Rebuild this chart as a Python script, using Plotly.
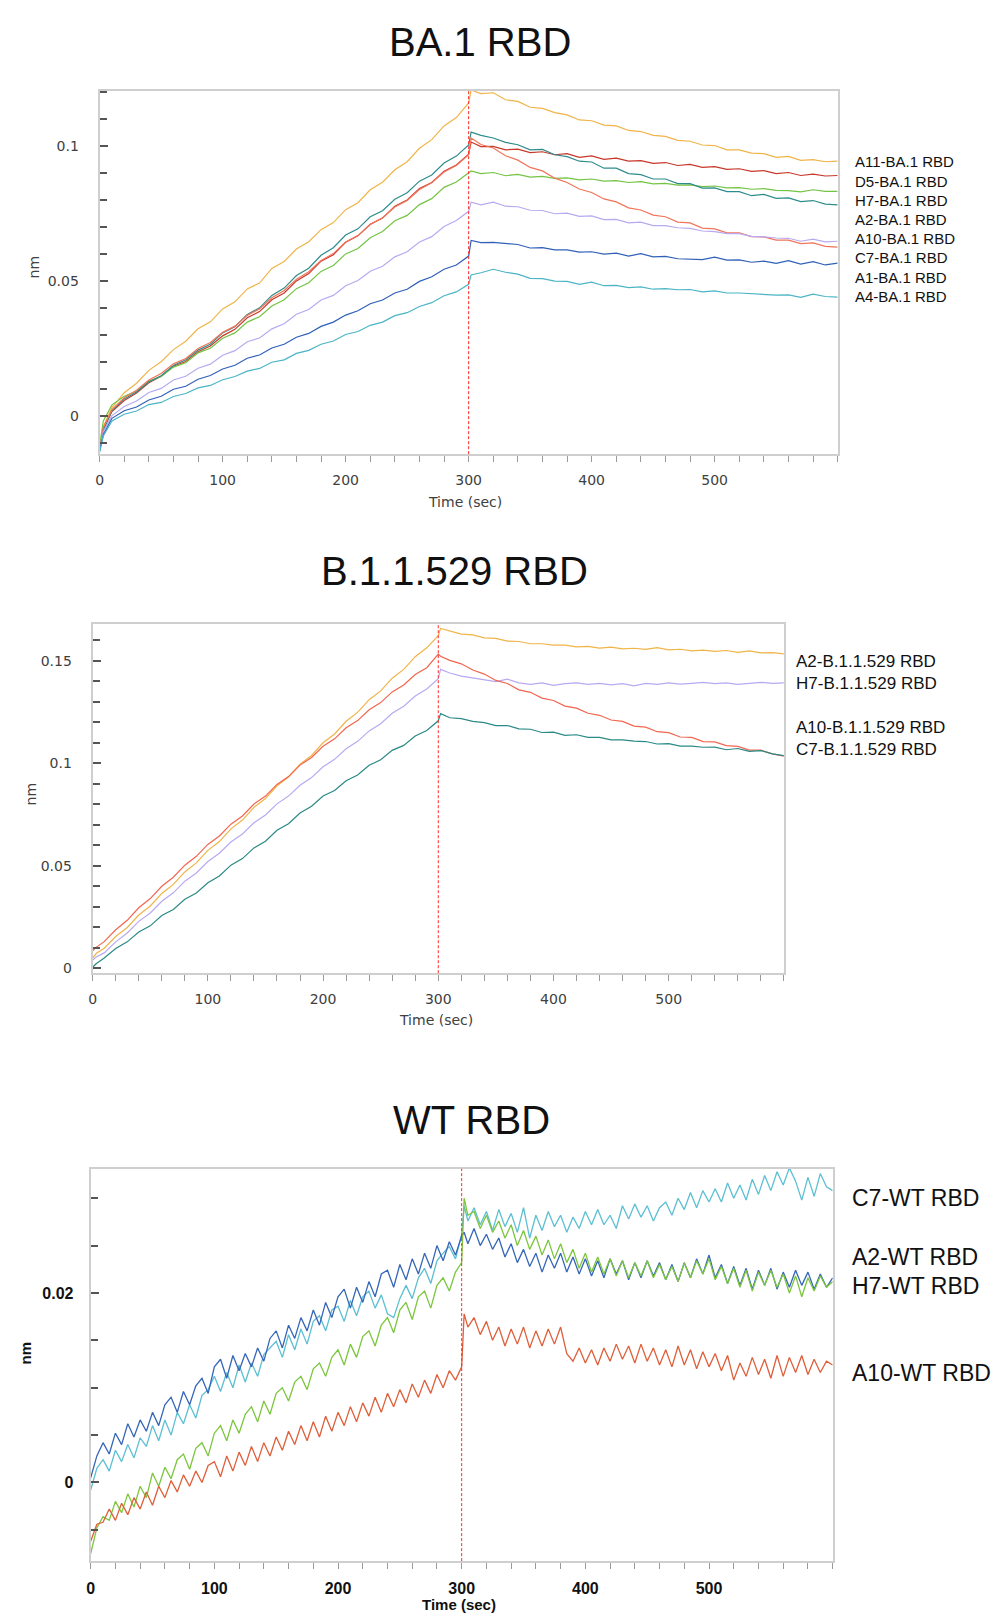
import plotly.graph_objects as go

# page offset of the default html body margin
OFF = 8
FW, FH = 992, 1612

# ---------------- time grids (sec) ----------------
T_KIN = [0, 3] + list(range(10, 301, 10)) + [302] + list(range(310, 601, 10))
T_WT = list(range(0, 301, 5)) + [302] + list(range(305, 601, 5))
DISSOC_START = 300
X_TICKS = [0, 100, 200, 300, 400, 500]

# ---------------- BA.1 RBD (nm) ----------------
BA1_A11 = [-0.0125, -0.0040,
           0.0030, 0.0085, 0.0120, 0.0168, 0.0200, 0.0245, 0.0276, 0.0322, 0.0348, 0.0396,
           0.0422, 0.0470, 0.0492, 0.0546, 0.0572, 0.0618, 0.0645, 0.0690, 0.0716, 0.0764,
           0.0790, 0.0838, 0.0866, 0.0912, 0.0942, 0.0992, 0.1024, 0.1075, 0.1106, 0.1160,
           0.1208,
           0.1195, 0.1198, 0.1172, 0.1166, 0.1144, 0.1140, 0.1124, 0.1116, 0.1097, 0.1094,
           0.1078, 0.1075, 0.1058, 0.1054, 0.1040, 0.1036, 0.1021, 0.1018, 0.1004, 0.1002,
           0.0986, 0.0986, 0.0974, 0.0972, 0.0958, 0.0962, 0.0947, 0.0950, 0.0942, 0.0944]
BA1_D5 = [-0.0130, -0.0050,
          0.0015, 0.0056, 0.0084, 0.0122, 0.0146, 0.0183, 0.0201, 0.0237, 0.0258, 0.0296,
          0.0320, 0.0363, 0.0386, 0.0430, 0.0455, 0.0500, 0.0527, 0.0573, 0.0597, 0.0643,
          0.0667, 0.0710, 0.0733, 0.0777, 0.0800, 0.0843, 0.0865, 0.0907, 0.0930, 0.0970,
          0.1015,
          0.0998, 0.0999, 0.0986, 0.0989, 0.0976, 0.0979, 0.0968, 0.0972, 0.0958, 0.0964,
          0.0951, 0.0955, 0.0944, 0.0946, 0.0936, 0.0939, 0.0928, 0.0932, 0.0921, 0.0924,
          0.0914, 0.0916, 0.0906, 0.0909, 0.0898, 0.0902, 0.0891, 0.0896, 0.0889, 0.0891]
BA1_H7 = [-0.0110, -0.0020,
          0.0040, 0.0072, 0.0091, 0.0127, 0.0145, 0.0180, 0.0196, 0.0233, 0.0250, 0.0287,
          0.0307, 0.0347, 0.0367, 0.0407, 0.0430, 0.0471, 0.0493, 0.0535, 0.0557, 0.0600,
          0.0620, 0.0660, 0.0683, 0.0723, 0.0743, 0.0783, 0.0805, 0.0847, 0.0867, 0.0900,
          0.0908,
          0.0898, 0.0902, 0.0890, 0.0895, 0.0885, 0.0888, 0.0880, 0.0882, 0.0875, 0.0878,
          0.0870, 0.0872, 0.0865, 0.0868, 0.0860, 0.0862, 0.0855, 0.0856, 0.0850, 0.0852,
          0.0845, 0.0846, 0.0840, 0.0842, 0.0836, 0.0835, 0.0830, 0.0838, 0.0832, 0.0832]
BA1_A2 = [-0.0128, -0.0055,
          0.0018, 0.0062, 0.0088, 0.0126, 0.0148, 0.0186, 0.0207, 0.0243, 0.0265, 0.0307,
          0.0330, 0.0375, 0.0400, 0.0446, 0.0473, 0.0520, 0.0547, 0.0595, 0.0623, 0.0670,
          0.0693, 0.0738, 0.0760, 0.0803, 0.0827, 0.0870, 0.0893, 0.0937, 0.0963, 0.1004,
          0.1052,
          0.1040, 0.1030, 0.1014, 0.1005, 0.0986, 0.0988, 0.0968, 0.0961, 0.0944, 0.0941,
          0.0918, 0.0918, 0.0898, 0.0894, 0.0878, 0.0878, 0.0861, 0.0861, 0.0844, 0.0845,
          0.0831, 0.0831, 0.0816, 0.0821, 0.0806, 0.0808, 0.0794, 0.0798, 0.0785, 0.0782]
BA1_A10 = [-0.0122, -0.0045,
           0.0022, 0.0066, 0.0094, 0.0132, 0.0156, 0.0192, 0.0212, 0.0249, 0.0271, 0.0309,
           0.0332, 0.0372, 0.0396, 0.0437, 0.0464, 0.0506, 0.0534, 0.0576, 0.0601, 0.0644,
           0.0668, 0.0709, 0.0734, 0.0774, 0.0798, 0.0839, 0.0864, 0.0904, 0.0928, 0.0968,
           0.1030,
           0.1006, 0.0993, 0.0964, 0.0948, 0.0921, 0.0908, 0.0881, 0.0865, 0.0841, 0.0828,
           0.0804, 0.0793, 0.0771, 0.0763, 0.0744, 0.0738, 0.0718, 0.0715, 0.0696, 0.0693,
           0.0678, 0.0678, 0.0664, 0.0663, 0.0651, 0.0651, 0.0638, 0.0641, 0.0628, 0.0625]
BA1_C7 = [-0.0120, -0.0060,
          0.0000, 0.0034, 0.0054, 0.0086, 0.0101, 0.0132, 0.0146, 0.0176, 0.0191, 0.0224,
          0.0241, 0.0274, 0.0288, 0.0322, 0.0341, 0.0376, 0.0394, 0.0429, 0.0446, 0.0482,
          0.0501, 0.0536, 0.0554, 0.0589, 0.0608, 0.0644, 0.0664, 0.0702, 0.0724, 0.0758,
          0.0792,
          0.0782, 0.0792, 0.0777, 0.0775, 0.0762, 0.0761, 0.0749, 0.0751, 0.0739, 0.0741,
          0.0727, 0.0728, 0.0715, 0.0718, 0.0705, 0.0705, 0.0697, 0.0695, 0.0685, 0.0683,
          0.0675, 0.0675, 0.0665, 0.0663, 0.0659, 0.0658, 0.0647, 0.0655, 0.0645, 0.0647]
BA1_A1 = [-0.0130, -0.0070,
          -0.0010, 0.0018, 0.0032, 0.0058, 0.0072, 0.0098, 0.0109, 0.0135, 0.0149, 0.0173,
          0.0187, 0.0213, 0.0225, 0.0251, 0.0265, 0.0291, 0.0305, 0.0331, 0.0347, 0.0373,
          0.0389, 0.0415, 0.0429, 0.0455, 0.0469, 0.0498, 0.0515, 0.0543, 0.0559, 0.0592,
          0.0650,
          0.0642, 0.0643, 0.0639, 0.0635, 0.0622, 0.0623, 0.0615, 0.0615, 0.0607, 0.0608,
          0.0599, 0.0603, 0.0592, 0.0601, 0.0589, 0.0591, 0.0582, 0.0581, 0.0579, 0.0588,
          0.0577, 0.0578, 0.0569, 0.0573, 0.0565, 0.0575, 0.0562, 0.0571, 0.0559, 0.0566]
BA1_A4 = [-0.0135, -0.0075,
          -0.0020, 0.0005, 0.0017, 0.0041, 0.0049, 0.0071, 0.0082, 0.0103, 0.0112, 0.0133,
          0.0145, 0.0165, 0.0175, 0.0198, 0.0207, 0.0231, 0.0242, 0.0265, 0.0277, 0.0301,
          0.0312, 0.0335, 0.0347, 0.0371, 0.0382, 0.0405, 0.0419, 0.0445, 0.0459, 0.0487,
          0.0522,
          0.0530, 0.0543, 0.0532, 0.0525, 0.0509, 0.0508, 0.0499, 0.0498, 0.0487, 0.0495,
          0.0482, 0.0483, 0.0475, 0.0478, 0.0469, 0.0471, 0.0467, 0.0468, 0.0459, 0.0463,
          0.0455, 0.0455, 0.0452, 0.0451, 0.0447, 0.0448, 0.0439, 0.0451, 0.0442, 0.0440]

# ---------------- B.1.1.529 RBD (nm) ----------------
OM_A2 = [0.0050, 0.0072,
         0.0098, 0.0155, 0.0199, 0.0260, 0.0304, 0.0365, 0.0409, 0.0470, 0.0514, 0.0575,
         0.0618, 0.0680, 0.0723, 0.0785, 0.0828, 0.0890, 0.0933, 0.0995, 0.1038, 0.1100,
         0.1143, 0.1205, 0.1248, 0.1310, 0.1353, 0.1415, 0.1458, 0.1520, 0.1563, 0.1622,
         0.1658,
         0.1645, 0.1630, 0.1626, 0.1612, 0.1609, 0.1596, 0.1594, 0.1583, 0.1583, 0.1576,
         0.1576, 0.1568, 0.1570, 0.1562, 0.1566, 0.1558, 0.1561, 0.1556, 0.1564, 0.1553,
         0.1556, 0.1548, 0.1552, 0.1546, 0.1550, 0.1541, 0.1548, 0.1538, 0.1540, 0.1534]
OM_H7 = [0.0040, 0.0055,
         0.0075, 0.0129, 0.0172, 0.0229, 0.0270, 0.0327, 0.0368, 0.0425, 0.0465, 0.0521,
         0.0561, 0.0616, 0.0655, 0.0710, 0.0748, 0.0802, 0.0840, 0.0893, 0.0930, 0.0983,
         0.1019, 0.1071, 0.1107, 0.1158, 0.1193, 0.1244, 0.1278, 0.1328, 0.1362, 0.1412,
         0.1458,
         0.1440, 0.1425, 0.1415, 0.1408, 0.1398, 0.1410, 0.1392, 0.1385, 0.1392, 0.1380,
         0.1388, 0.1392, 0.1385, 0.1390, 0.1382, 0.1388, 0.1378, 0.1390, 0.1385, 0.1392,
         0.1386, 0.1390, 0.1395, 0.1388, 0.1392, 0.1385, 0.1390, 0.1395, 0.1390, 0.1392]
OM_A10 = [0.0085, 0.0102,
          0.0130, 0.0188, 0.0234, 0.0295, 0.0340, 0.0400, 0.0444, 0.0503, 0.0546, 0.0604,
          0.0645, 0.0703, 0.0743, 0.0801, 0.0840, 0.0897, 0.0935, 0.0991, 0.1028, 0.1083,
          0.1119, 0.1173, 0.1208, 0.1261, 0.1296, 0.1348, 0.1382, 0.1433, 0.1466, 0.1532,
          0.1522,
          0.1502, 0.1485, 0.1455, 0.1435, 0.1404, 0.1389, 0.1358, 0.1346, 0.1318, 0.1306,
          0.1279, 0.1269, 0.1244, 0.1234, 0.1211, 0.1204, 0.1181, 0.1176, 0.1154, 0.1149,
          0.1128, 0.1126, 0.1106, 0.1104, 0.1086, 0.1082, 0.1064, 0.1064, 0.1046, 0.1035]
OM_C7 = [0.0005, 0.0022,
         0.0050, 0.0096, 0.0129, 0.0177, 0.0207, 0.0257, 0.0287, 0.0337, 0.0367, 0.0417,
         0.0450, 0.0503, 0.0535, 0.0587, 0.0620, 0.0673, 0.0705, 0.0757, 0.0790, 0.0840,
         0.0867, 0.0915, 0.0943, 0.0990, 0.1017, 0.1063, 0.1087, 0.1133, 0.1160, 0.1207,
         0.1242,
         0.1222, 0.1218, 0.1204, 0.1198, 0.1184, 0.1184, 0.1168, 0.1166, 0.1150, 0.1152,
         0.1136, 0.1139, 0.1126, 0.1126, 0.1114, 0.1114, 0.1108, 0.1106, 0.1094, 0.1096,
         0.1084, 0.1084, 0.1078, 0.1079, 0.1066, 0.1072, 0.1058, 0.1062, 0.1046, 0.1037]

# ---------------- WT RBD (nm) ----------------
WT_C7 = [-0.0008, 0.0015, 0.0024, 0.0012, 0.0034, 0.0022, 0.0040, 0.0026, 0.0047, 0.0038,
         0.0060, 0.0044, 0.0066, 0.0050, 0.0074, 0.0062, 0.0082, 0.0068, 0.0092, 0.0098,
         0.0112, 0.0096, 0.0116, 0.0100, 0.0124, 0.0106, 0.0126, 0.0112, 0.0135, 0.0142,
         0.0149, 0.0132, 0.0156, 0.0140, 0.0162, 0.0146, 0.0170, 0.0176, 0.0160, 0.0182,
         0.0186, 0.0170, 0.0192, 0.0176, 0.0196, 0.0202, 0.0184, 0.0198, 0.0178, 0.0174,
         0.0194, 0.0208, 0.0194, 0.0216, 0.0226, 0.0210, 0.0234, 0.0242, 0.0249, 0.0236,
         0.0262,
         0.0292,
         0.0276, 0.0290, 0.0272, 0.0286, 0.0266, 0.0288, 0.0270, 0.0284, 0.0264, 0.0290,
         0.0258, 0.0282, 0.0266, 0.0286, 0.0270, 0.0282, 0.0264, 0.0280, 0.0268, 0.0286,
         0.0272, 0.0288, 0.0272, 0.0282, 0.0268, 0.0292, 0.0278, 0.0294, 0.0280, 0.0292,
         0.0276, 0.0290, 0.0296, 0.0282, 0.0300, 0.0288, 0.0306, 0.0290, 0.0308, 0.0296,
         0.0310, 0.0296, 0.0316, 0.0300, 0.0314, 0.0298, 0.0320, 0.0304, 0.0324, 0.0308,
         0.0328, 0.0314, 0.0332, 0.0318, 0.0298, 0.0322, 0.0302, 0.0326, 0.0312, 0.0308]
WT_A2 = [0.0005, 0.0028, 0.0042, 0.0030, 0.0052, 0.0040, 0.0062, 0.0048, 0.0066, 0.0054,
         0.0074, 0.0060, 0.0082, 0.0090, 0.0074, 0.0096, 0.0082, 0.0102, 0.0110, 0.0094,
         0.0122, 0.0130, 0.0110, 0.0134, 0.0118, 0.0136, 0.0122, 0.0142, 0.0128, 0.0152,
         0.0160, 0.0142, 0.0166, 0.0152, 0.0174, 0.0160, 0.0182, 0.0166, 0.0190, 0.0174,
         0.0196, 0.0204, 0.0184, 0.0206, 0.0190, 0.0212, 0.0196, 0.0220, 0.0224, 0.0206,
         0.0230, 0.0214, 0.0236, 0.0220, 0.0242, 0.0226, 0.0250, 0.0234, 0.0254, 0.0240,
         0.0260,
         0.0264,
         0.0252, 0.0268, 0.0250, 0.0262, 0.0246, 0.0258, 0.0238, 0.0252, 0.0232, 0.0246,
         0.0228, 0.0242, 0.0222, 0.0240, 0.0226, 0.0242, 0.0222, 0.0238, 0.0220, 0.0236,
         0.0218, 0.0234, 0.0216, 0.0236, 0.0220, 0.0234, 0.0214, 0.0232, 0.0216, 0.0234,
         0.0218, 0.0232, 0.0214, 0.0230, 0.0212, 0.0232, 0.0216, 0.0236, 0.0220, 0.0240,
         0.0216, 0.0230, 0.0210, 0.0228, 0.0208, 0.0226, 0.0204, 0.0224, 0.0208, 0.0226,
         0.0204, 0.0222, 0.0206, 0.0224, 0.0208, 0.0222, 0.0204, 0.0220, 0.0206, 0.0216]
WT_H7 = [-0.0075, -0.0048, -0.0036, -0.0040, -0.0020, -0.0032, -0.0012, -0.0026, -0.0004, -0.0016,
         0.0010, -0.0004, 0.0016, 0.0004, 0.0024, 0.0030, 0.0014, 0.0036, 0.0042, 0.0028,
         0.0052, 0.0060, 0.0044, 0.0066, 0.0052, 0.0072, 0.0080, 0.0064, 0.0086, 0.0072,
         0.0094, 0.0100, 0.0086, 0.0106, 0.0112, 0.0098, 0.0120, 0.0126, 0.0112, 0.0132,
         0.0140, 0.0124, 0.0146, 0.0132, 0.0154, 0.0160, 0.0144, 0.0166, 0.0174, 0.0158,
         0.0182, 0.0190, 0.0172, 0.0196, 0.0202, 0.0184, 0.0208, 0.0216, 0.0202, 0.0222,
         0.0232,
         0.0300,
         0.0282, 0.0286, 0.0268, 0.0282, 0.0264, 0.0276, 0.0258, 0.0272, 0.0250, 0.0266,
         0.0246, 0.0260, 0.0240, 0.0256, 0.0236, 0.0252, 0.0232, 0.0246, 0.0226, 0.0242,
         0.0222, 0.0238, 0.0220, 0.0236, 0.0218, 0.0234, 0.0216, 0.0232, 0.0218, 0.0234,
         0.0216, 0.0230, 0.0214, 0.0228, 0.0212, 0.0232, 0.0216, 0.0234, 0.0220, 0.0236,
         0.0214, 0.0228, 0.0210, 0.0226, 0.0206, 0.0224, 0.0202, 0.0222, 0.0208, 0.0224,
         0.0206, 0.0220, 0.0200, 0.0218, 0.0196, 0.0216, 0.0202, 0.0218, 0.0206, 0.0212]
WT_A10 = [-0.0062, -0.0044, -0.0042, -0.0028, -0.0040, -0.0022, -0.0034, -0.0016, -0.0028, -0.0010,
          -0.0024, -0.0004, -0.0016, 0.0002, -0.0010, 0.0008, -0.0004, 0.0012, 0.0000, 0.0018,
          0.0022, 0.0006, 0.0028, 0.0012, 0.0032, 0.0018, 0.0038, 0.0022, 0.0042, 0.0028,
          0.0048, 0.0034, 0.0054, 0.0040, 0.0060, 0.0044, 0.0064, 0.0048, 0.0070, 0.0054,
          0.0074, 0.0060, 0.0080, 0.0064, 0.0084, 0.0070, 0.0090, 0.0074, 0.0094, 0.0080,
          0.0098, 0.0084, 0.0104, 0.0090, 0.0108, 0.0094, 0.0114, 0.0100, 0.0118, 0.0108,
          0.0122,
          0.0178,
          0.0164, 0.0174, 0.0156, 0.0170, 0.0150, 0.0164, 0.0144, 0.0162, 0.0146, 0.0164,
          0.0142, 0.0160, 0.0144, 0.0162, 0.0146, 0.0164, 0.0136, 0.0128, 0.0142, 0.0126,
          0.0140, 0.0124, 0.0142, 0.0128, 0.0146, 0.0130, 0.0144, 0.0126, 0.0146, 0.0128,
          0.0142, 0.0124, 0.0140, 0.0122, 0.0144, 0.0124, 0.0140, 0.0120, 0.0138, 0.0122,
          0.0136, 0.0118, 0.0134, 0.0108, 0.0126, 0.0112, 0.0132, 0.0114, 0.0130, 0.0110,
          0.0134, 0.0112, 0.0132, 0.0116, 0.0134, 0.0114, 0.0130, 0.0116, 0.0128, 0.0124]

# ---------------- series definitions ----------------
BA1_LABELS = ["A11-BA.1 RBD", "D5-BA.1 RBD", "H7-BA.1 RBD", "A2-BA.1 RBD",
              "A10-BA.1 RBD", "C7-BA.1 RBD", "A1-BA.1 RBD", "A4-BA.1 RBD"]
BA1_VALUES = [BA1_A11, BA1_D5, BA1_H7, BA1_A2, BA1_A10, BA1_C7, BA1_A1, BA1_A4]
BA1_COLORS = ["#f0b448", "#c8382a", "#74c444", "#2f8c8c", "#f27459", "#b9a9f2", "#3060b8", "#4bb5c6"]

OM_LABELS = ["A2-B.1.1.529 RBD", "H7-B.1.1.529 RBD", "A10-B.1.1.529 RBD", "C7-B.1.1.529 RBD"]
OM_VALUES = [OM_A2, OM_H7, OM_A10, OM_C7]
OM_COLORS = ["#f0b448", "#b9a9f2", "#f26650", "#2a8a86"]

WT_LABELS = ["C7-WT RBD", "A2-WT RBD", "H7-WT RBD", "A10-WT RBD"]
WT_VALUES = [WT_C7, WT_A2, WT_H7, WT_A10]
WT_COLORS = ["#5cbfd2", "#3566b8", "#7cc63e", "#de5f3a"]

for arr in BA1_VALUES + OM_VALUES:
    assert len(arr) == len(T_KIN), len(arr)
for arr in WT_VALUES:
    assert len(arr) == len(T_WT), len(arr)


def px(x):
    return (x - OFF) / FW


def py(y):
    return 1 - (y - OFF) / FH


fig = go.Figure()

panels = [
    dict(ax="", t=T_KIN, vals=BA1_VALUES, cols=BA1_COLORS, width=1.2, labels=BA1_LABELS),
    dict(ax="2", t=T_KIN, vals=OM_VALUES, cols=OM_COLORS, width=1.2, labels=OM_LABELS),
    dict(ax="3", t=T_WT, vals=WT_VALUES, cols=WT_COLORS, width=1.3, labels=WT_LABELS),
]
for p in panels:
    for lab, v, c in zip(p["labels"], p["vals"], p["cols"]):
        fig.add_trace(go.Scatter(x=p["t"], y=v, mode="lines", name=lab,
                                 line=dict(color=c, width=p["width"]),
                                 xaxis="x" + p["ax"], yaxis="y" + p["ax"],
                                 showlegend=False))

light_font = dict(family="DejaVu Sans", size=14, color="#404040")
bold_font = dict(family="Liberation Sans", size=16, color="#111111", weight="bold")
border = dict(showline=True, mirror=True, linecolor="#cfcfcf", linewidth=2,
              showgrid=False, zeroline=False)


def xaxis_cfg(dom, anchor, font):
    return dict(domain=dom, anchor=anchor, range=[0, 600], tickmode="array",
                tickvals=X_TICKS, ticks="outside", ticklen=6, tickcolor="#9a9a9a",
                tickwidth=1, tickfont=font, ticklabelstandoff=6,
                minor=dict(tickmode="linear", tick0=0, dtick=20, ticks="outside",
                           ticklen=6, tickcolor="#9a9a9a", tickwidth=1),
                **border)


def yaxis_cfg(dom, anchor, rng, tv, tt, mdt, font, standoff):
    return dict(domain=dom, anchor=anchor, range=rng, tickmode="array",
                tickvals=tv, ticktext=tt, ticks="inside", ticklen=8, tickcolor="#555555",
                tickwidth=1.5, tickfont=font, ticklabelstandoff=standoff,
                minor=dict(tickmode="linear", tick0=0, dtick=mdt, ticks="inside",
                           ticklen=7, tickcolor="#555555", tickwidth=1.5),
                **border)


fig.update_layout(
    width=FW, height=FH, margin=dict(l=0, r=0, t=0, b=0),
    paper_bgcolor="white", plot_bgcolor="white",
    xaxis=xaxis_cfg([px(96), px(837)], "y", light_font),
    yaxis=yaxis_cfg([py(455), py(91)], "x", [-0.0143, 0.1205],
                    [0, 0.05, 0.1], ["0", "0.05", "0.1"], 0.01, light_font, 16),
    xaxis2=xaxis_cfg([px(89), px(783)], "y2", light_font),
    yaxis2=yaxis_cfg([py(975), py(625)], "x2", [-0.0024, 0.168],
                     [0, 0.05, 0.1, 0.15], ["0", "0.05", "0.1", "0.15"], 0.01, light_font, 16),
    xaxis3=xaxis_cfg([px(87), px(832)], "y3", bold_font),
    yaxis3=yaxis_cfg([py(1564), py(1171)], "x3", [-0.0083, 0.0331],
                     [0, 0.02], ["0", "0.02"], 0.005, bold_font, 12),
)

shapes = []
for ax in ["", "2", "3"]:
    shapes.append(dict(type="line", xref="x" + ax, yref="y" + ax + " domain",
                       x0=DISSOC_START, x1=DISSOC_START, y0=0, y1=1, layer="above",
                       line=dict(color="#ff2a2a", width=1, dash="3px,2px")))
fig.update_layout(shapes=shapes)

ann = []
title_font = dict(family="Liberation Sans", size=40, color="#111111")
for txt, x, y in [("BA.1 RBD", 478, 42), ("B.1.1.529 RBD", 452, 572), ("WT RBD", 469, 1122)]:
    ann.append(dict(text=txt, x=px(x), y=py(y), xref="paper", yref="paper",
                    xanchor="center", yanchor="middle", showarrow=False, font=title_font))

light_title = dict(family="DejaVu Sans", size=14, color="#404040")
bold_title = dict(family="Liberation Sans", size=15, color="#111111", weight="bold")
for x, y, f in [(463, 503, light_title), (434, 1022, light_title), (457, 1607, bold_title)]:
    ann.append(dict(text="Time (sec)", x=px(x), y=py(y), xref="paper", yref="paper",
                    xanchor="center", yanchor="middle", showarrow=False, font=f))
for x, y, f in [(30, 267, light_title), (27, 795, light_title), (22, 1355, bold_title)]:
    ann.append(dict(text="nm", x=px(x), y=py(y), xref="paper", yref="paper", textangle=-90,
                    xanchor="center", yanchor="middle", showarrow=False, font=f))

label_rows = [
    (BA1_LABELS, 852, [162, 182, 201, 220, 239, 258, 278, 297], 15),
    (OM_LABELS, 793, [663, 685, 729, 751], 17),
    (WT_LABELS, 849, [1200, 1259, 1288, 1376], 23),
]
for labels, x, ys, size in label_rows:
    for lab, y in zip(labels, ys):
        ann.append(dict(text=lab, x=px(x), y=py(y), xref="paper", yref="paper",
                        xanchor="left", yanchor="middle", showarrow=False,
                        font=dict(family="Liberation Sans", size=size, color="#111111")))

fig.update_layout(annotations=ann)
fig.write_html("out.html")
